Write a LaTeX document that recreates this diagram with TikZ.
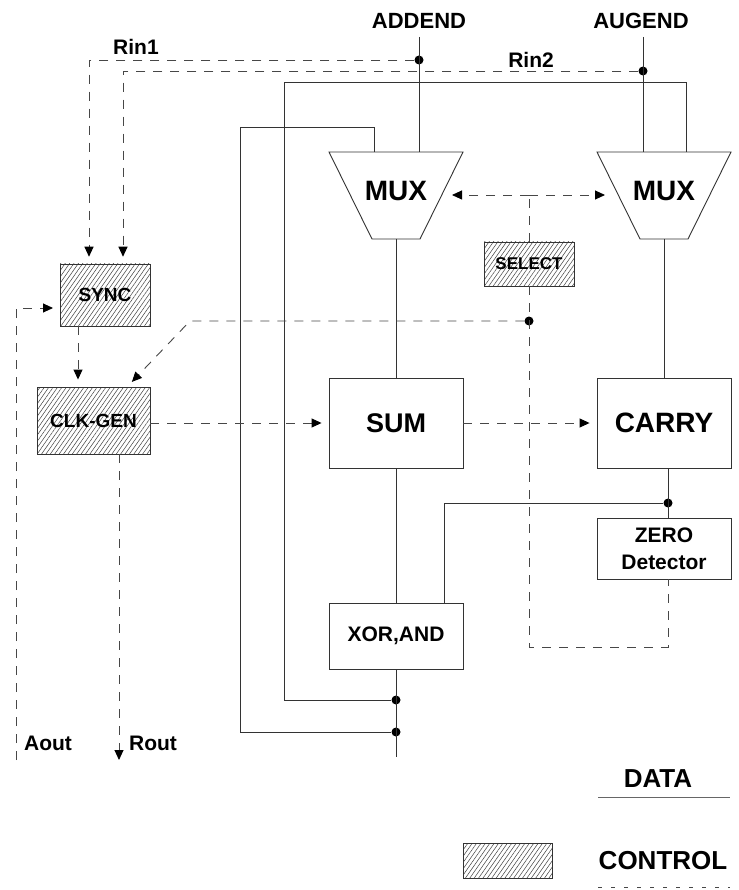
\documentclass[tikz,border=0pt]{standalone}
\usepackage{fontspec}
\setmainfont{Liberation Sans}
\usetikzlibrary{arrows.meta,patterns.meta}
\newcommand\fsz[1]{\fontsize{#1}{#1}\selectfont}
\begin{document}
\begin{tikzpicture}[x=1pt,y=-1pt,
  data/.style={draw=black!80, line width=0.9pt},
  ctl/.style={draw=black!72, line width=0.9pt, dash pattern=on 9pt off 8pt},
  tip/.style={-{Triangle[length=10pt,width=9pt,color=black]}},
  arr/.style={tip, shorten >=7pt},
  box/.style={draw=black!80, line width=0.9pt, inner sep=0pt, font=\bfseries, align=center},
  hatch/.style={box, pattern={Lines[angle=55,distance=3.6pt,line width=0.5pt]}, pattern color=black!75},
  lbl/.style={inner sep=0pt, font=\bfseries},
  dot/.style={circle, fill=black, inner sep=0pt, minimum size=9pt}
]
\fill[white] (0,0) rectangle (738,890);
\useasboundingbox (0,0) rectangle (738,890);

% ---------- labels at top
\node[lbl,font=\bfseries\fsz{22}] (addend) at (419,21) {ADDEND};
\node[lbl,font=\bfseries\fsz{22}] (augend) at (641,21) {AUGEND};
\node[lbl,font=\bfseries\fsz{21}] (rin1) at (136,47) {Rin1};
\node[lbl,font=\bfseries\fsz{21}] (rin2) at (531,60) {Rin2};

% ---------- MUX shapes
\draw[data] (329,152) -- (463,152) -- (420,239) -- (372,239) -- cycle;
\draw[data] (597,152) -- (731,152) -- (688,239) -- (640,239) -- cycle;
\node[lbl,font=\bfseries\fsz{28}] (mux1) at (396,191) {MUX};
\node[lbl,font=\bfseries\fsz{28}] (mux2) at (664,191) {MUX};
\coordinate (m1in)  at (419,152);
\coordinate (m1fb)  at (374,152);
\coordinate (m1out) at (396,239);
\coordinate (m1sel) at (452,195);
\coordinate (m2in)  at (643,152);
\coordinate (m2fb)  at (686,152);
\coordinate (m2out) at (664,239);
\coordinate (m2sel) at (605,195);

% ---------- boxes
\node[box,font=\bfseries\fsz{27},minimum width=134pt,minimum height=90pt] (sum) at (396,423) {SUM};
\node[box,font=\bfseries\fsz{28},minimum width=134pt,minimum height=90pt] (carry) at (664,423) {CARRY};
\node[box,font=\bfseries\fsz{21},minimum width=134pt,minimum height=61pt] (zero) at (664,548.5) {ZERO\\[6pt]Detector};
\node[box,font=\bfseries\fsz{21},minimum width=134pt,minimum height=66pt] (xor) at (396,636) {XOR,AND};
\node[hatch,font=\bfseries\fsz{19},minimum width=90pt,minimum height=62pt] (sync) at (105,295) {SYNC};
\node[hatch,font=\bfseries\fsz{19},minimum width=113pt,minimum height=67pt] (clk) at (93.5,420.5) {CLK-GEN};
\node[hatch,font=\bfseries\fsz{17},minimum width=90pt,minimum height=44pt] (select) at (529,264) {SELECT};

% ---------- dots
\node[dot] (d1) at (419,60) {};
\node[dot] (d2) at (643,71) {};
\node[dot] (d3) at (529,321) {};
\node[dot] (d4) at (668,503) {};
\node[dot] (d5) at (396,700) {};
\node[dot] (d6) at (396,732) {};

% ---------- data connections
\draw[data, shorten <=8pt] (addend.south) -- (m1in);
\draw[data, shorten <=8pt] (augend.south -| m2in) -- (m2in);
\draw[data] (m1out) -- (sum.north);
\draw[data] (sum.south) -- (xor.north);
\coordinate (dend) at (396,757);
\draw[data] (xor.south) -- (dend);
\draw[data] (m2out) -- (carry.north);
\coordinate (zx) at (668,0);
\draw[data] (carry.south -| zx) -- (zero.north -| zx);
\coordinate (xx) at (444,0);
\draw[data] (d4) -| (xor.north -| xx);
\coordinate (lo) at (284,82);
\draw[data] (m2fb) |- (lo) |- (d5);
\coordinate (li) at (240,127);
\draw[data] (m1fb) |- (li) |- (d6);

% ---------- control connections
\coordinate (c1) at (89,60);
\draw[ctl, arr] (d1) -- (c1) -- (sync.north -| c1);
\coordinate (c2) at (123,71);
\draw[ctl, arr] (d2) -- (c2) -- (sync.north -| c2);
\coordinate (sx) at (78,0);
\draw[ctl, arr] (sync.south -| sx) -- (clk.north -| sx);
\coordinate (aoutend) at (16,760);
\coordinate (syncin) at (60,308);
\draw[ctl, arr] (aoutend) |- (syncin);
\coordinate (routend) at (119,760);
\draw[ctl, tip] (clk.south -| routend) -- (routend);
\draw[ctl, arr] (sum.west -| clk.east) -- (sum.west);
\draw[ctl, arr] (sum.east) -- (carry.west);
\coordinate (sj) at (529,195);
\draw[ctl] (select.north) -- (sj);
\draw[ctl, tip] (sj) -- (m1sel);
\draw[ctl, tip] (sj) -- (m2sel);
\coordinate (bend) at (190,321);
\coordinate (clkin) at (127,387);
\draw[ctl, arr] (d3) -- (bend) -- (clkin);
\coordinate (sb) at (529,647);
\draw[ctl] (select.south) -- (sb) -| (zero.south -| zx);

% ---------- output labels
\node[lbl,font=\bfseries\fsz{21}] (aout) at (48,743) {Aout};
\node[lbl,font=\bfseries\fsz{21}] (rout) at (153,743) {Rout};

% ---------- legend
\node[lbl,font=\bfseries\fsz{26}] (datalbl) at (658,779) {DATA};
\coordinate (dl1) at (598,797);
\coordinate (dl2) at (730,797);
\draw[data, draw=black!60] (dl1) -- (dl2);
\node[hatch,minimum width=89pt,minimum height=35pt] (ctlbox) at (507.5,860.5) {};
\node[lbl,font=\bfseries\fsz{26}] (ctllbl) at (663,861) {CONTROL};
\coordinate (cl1) at (598,887);
\coordinate (cl2) at (730,887);
\draw[ctl, dash pattern=on 4pt off 9pt] (cl1) -- (cl2);
\end{tikzpicture}
\end{document}
